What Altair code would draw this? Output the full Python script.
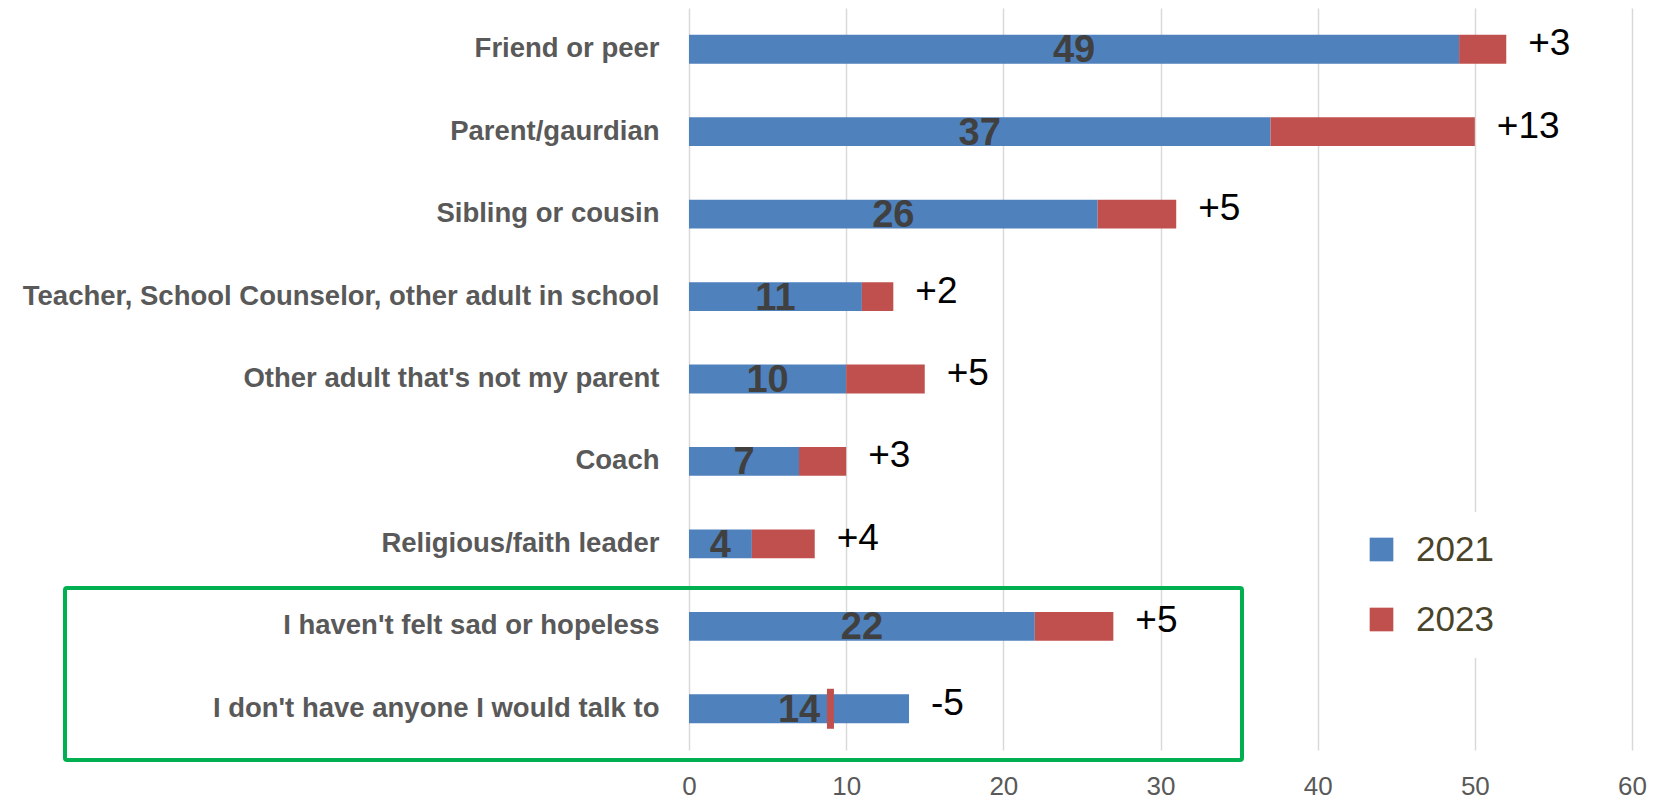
import altair as alt
import pandas as pd

categories = [
    "Friend or peer",
    "Parent/gaurdian",
    "Sibling or cousin",
    "Teacher, School Counselor,  other adult in school",
    "Other adult that's not my parent",
    "Coach",
    "Religious/faith  leader",
    "I haven't felt sad or hopeless",
    "I don't have anyone I would talk to",
]
v2021 = [49, 37, 26, 11, 10, 7, 4, 22, 14]
v2023 = [52, 50, 31, 13, 15, 10, 8, 27, 9]
change_labels = ["+3", "+13", "+5", "+2", "+5", "+3", "+4", "+5", "-5"]
x_ticks = [0, 10, 20, 30, 40, 50, 60]

BLUE = "#4f81bd"
RED = "#c0504d"
FONT = "Liberation Sans, Arial, sans-serif"

df = pd.DataFrame({"cat": categories, "v2021": v2021, "v2023": v2023, "chg": change_labels})
df["mid"] = df["v2021"] / 2
df["end"] = df[["v2021", "v2023"]].max(axis=1)
df["up"] = df["v2023"] >= df["v2021"]

base = alt.Chart(df)

yenc = alt.Y(
    "cat:N",
    sort=categories,
    scale=alt.Scale(paddingInner=0.65),
    axis=alt.Axis(
        title=None, domain=False, ticks=False, labelFontSize=27.5, labelFont=FONT,
        labelFontWeight="bold", labelColor="#595959", labelPadding=30, labelLimit=900,
    ),
)
xscale = alt.Scale(domain=[0, 60])
xaxis = alt.Axis(
    values=x_ticks, title=None, domain=False, ticks=False, grid=True,
    gridColor="#d9d9d9", gridWidth=1.5, labelFontSize=26, labelFont=FONT,
    labelColor="#595959", labelPadding=23, labelFlush=False,
)
color_scale = alt.Scale(domain=["2021", "2023"], range=[BLUE, RED])
legend = alt.Legend(
    title=None, orient="none", legendX=655, legendY=504, fillColor="white",
    padding=20, symbolType="square", symbolSize=560, symbolStrokeWidth=0,
    labelFontSize=35, labelFont=FONT, labelColor="#494429", rowPadding=34,
    labelOffset=17,
)

blue = base.mark_bar().transform_calculate(year="'2021'", zero="0").encode(
    x=alt.X("zero:Q", scale=xscale, axis=xaxis),
    x2="v2021:Q",
    y=yenc,
    color=alt.Color("year:N", scale=color_scale, legend=legend),
)

red = base.mark_bar().transform_filter("datum.up").transform_calculate(year="'2023'").encode(
    x=alt.X("v2021:Q", scale=xscale),
    x2="v2023:Q",
    y=alt.Y("cat:N", sort=categories),
    color=alt.Color("year:N", scale=color_scale, legend=legend),
)

red_tick = base.mark_tick(thickness=7, size=40, color=RED, opacity=1).transform_filter("!datum.up").encode(
    x=alt.X("v2023:Q", scale=xscale),
    y=alt.Y("cat:N", sort=categories),
)

mid_labels = base.mark_text(
    font=FONT, fontSize=38, fontWeight="bold", color="#404040", baseline="middle", align="center", dy=2
).encode(
    x=alt.X("mid:Q", scale=xscale),
    y=alt.Y("cat:N", sort=categories),
    text="v2021:Q",
)

chg_labels = base.mark_text(
    font=FONT, fontSize=37, color="#000000", baseline="middle", align="left", dx=22, dy=-5
).encode(
    x=alt.X("end:Q", scale=xscale),
    y=alt.Y("cat:N", sort=categories),
    text="chg:N",
)

box = alt.Chart(pd.DataFrame({"k": [1]})).mark_rect(
    filled=False, stroke="#00b050", strokeWidth=4, cornerRadius=2
).encode(
    x=alt.value(65 - 689), x2=alt.value(1242 - 689),
    y=alt.value(588 - 8), y2=alt.value(760 - 8),
)

chart = alt.layer(blue, red, red_tick, mid_labels, chg_labels, box).properties(
    width=943, height=742,
    autosize=alt.AutoSizeParams(type="none"),
    padding={"left": 681, "top": 0, "right": 20, "bottom": 50},
).configure_view(stroke=None)

chart.save("out.html", embed_options={"renderer": "svg", "actions": False})
